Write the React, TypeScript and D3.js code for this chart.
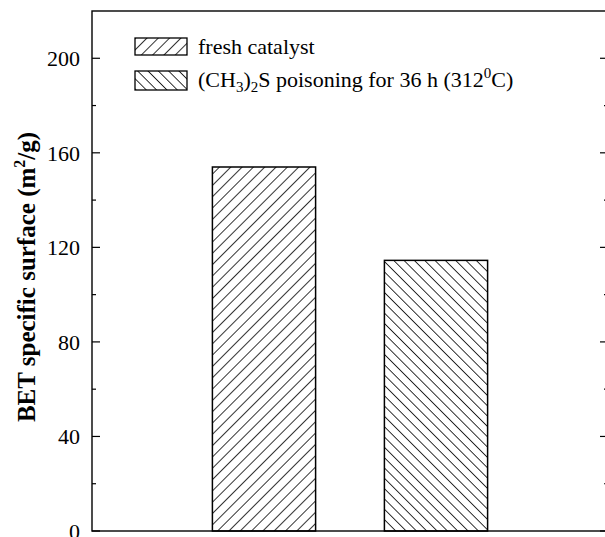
import * as d3 from 'd3'

// values
const categories = ['fresh', 'poisoned']
const values = [154, 114.5]
const hatches = ['fwd', 'back']
const majorTicks = [0, 40, 80, 120, 160, 200]
const minorTicks = [20, 60, 100, 140, 180]

const W = 605
const H = 537
const M = { top: 11, right: -3, bottom: 6, left: 92 }
const FONT = '"Liberation Serif", "Times New Roman", serif'

export default function App() {
  const iW = W - M.left - M.right
  const iH = H - M.top - M.bottom

  const x = d3.scaleLinear().domain([0, 3]).range([0, iW])
  const y = d3.scaleLinear().domain([0, 220]).range([iH, 0])
  const barW = x(0.6) - x(0)

  return (
    <svg
      width={W}
      height={H}
      style={{ position: 'absolute', left: 0, top: 0, background: '#fff' }}
      fontFamily={FONT}
    >
      <defs>
        <pattern id="fwd" width={8} height={8} patternUnits="userSpaceOnUse" patternTransform="rotate(45)">
          <line x1={0} y1={0} x2={0} y2={8} stroke="#000" strokeWidth={1.6} />
        </pattern>
        <pattern id="back" width={7.3} height={7.3} patternUnits="userSpaceOnUse" patternTransform="rotate(-45)">
          <line x1={0} y1={0} x2={0} y2={7.3} stroke="#000" strokeWidth={1.6} />
        </pattern>
      </defs>

      <g transform={`translate(${M.left},${M.top})`}>
        {/* bars */}
        {categories.map((c, i) => (
          <rect
            key={c}
            x={x(i + 1) - barW / 2}
            y={y(values[i])}
            width={barW}
            height={y(0) - y(values[i])}
            fill={`url(#${hatches[i]})`}
            stroke="#000"
            strokeWidth={1.5}
          />
        ))}

        {/* frame */}
        <rect x={0} y={0} width={iW} height={iH} fill="none" stroke="#000" strokeWidth={1.4} />

        {/* ticks */}
        {majorTicks.map((t) => (
          <g key={t} transform={`translate(0,${y(t)})`}>
            <line x1={0} x2={8} stroke="#000" strokeWidth={1.2} />
            <line x1={iW} x2={iW - 8} stroke="#000" strokeWidth={1.2} />
            <text x={-12} dy="0.35em" textAnchor="end" fontSize={22} fill="#000">
              {t}
            </text>
          </g>
        ))}
        {minorTicks.map((t) => (
          <g key={t} transform={`translate(0,${y(t)})`}>
            <line x1={0} x2={4} stroke="#000" strokeWidth={1.2} />
            <line x1={iW} x2={iW - 4} stroke="#000" strokeWidth={1.2} />
          </g>
        ))}
      </g>

      {/* y axis label */}
      <text
        transform={`translate(35,277) rotate(-90)`}
        textAnchor="middle"
        fontSize={25}
        fontWeight="bold"
        fill="#000"
      >
        BET specific surface (m<tspan dy={-10} fontSize={16}>2</tspan>
        <tspan dy={10}>/g)</tspan>
      </text>

      {/* legend */}
      <g transform="translate(135,38)">
        <rect x={0} y={0} width={52} height={17} fill="url(#fwd)" stroke="#000" strokeWidth={1.3} />
        <text x={63} y={16} fontSize={22} fill="#000">
          fresh catalyst
        </text>
        <rect x={0} y={33} width={52} height={19} fill="url(#back)" stroke="#000" strokeWidth={1.3} />
        <text x={63} y={49} fontSize={22} fill="#000">
          (CH<tspan dy={5} fontSize={15}>3</tspan>
          <tspan dy={-5}>)</tspan>
          <tspan dy={5} fontSize={15}>2</tspan>
          <tspan dy={-5}>S poisoning for 36 h (312</tspan>
          <tspan dy={-9} fontSize={15}>0</tspan>
          <tspan dy={9}>C)</tspan>
        </text>
      </g>
    </svg>
  )
}
